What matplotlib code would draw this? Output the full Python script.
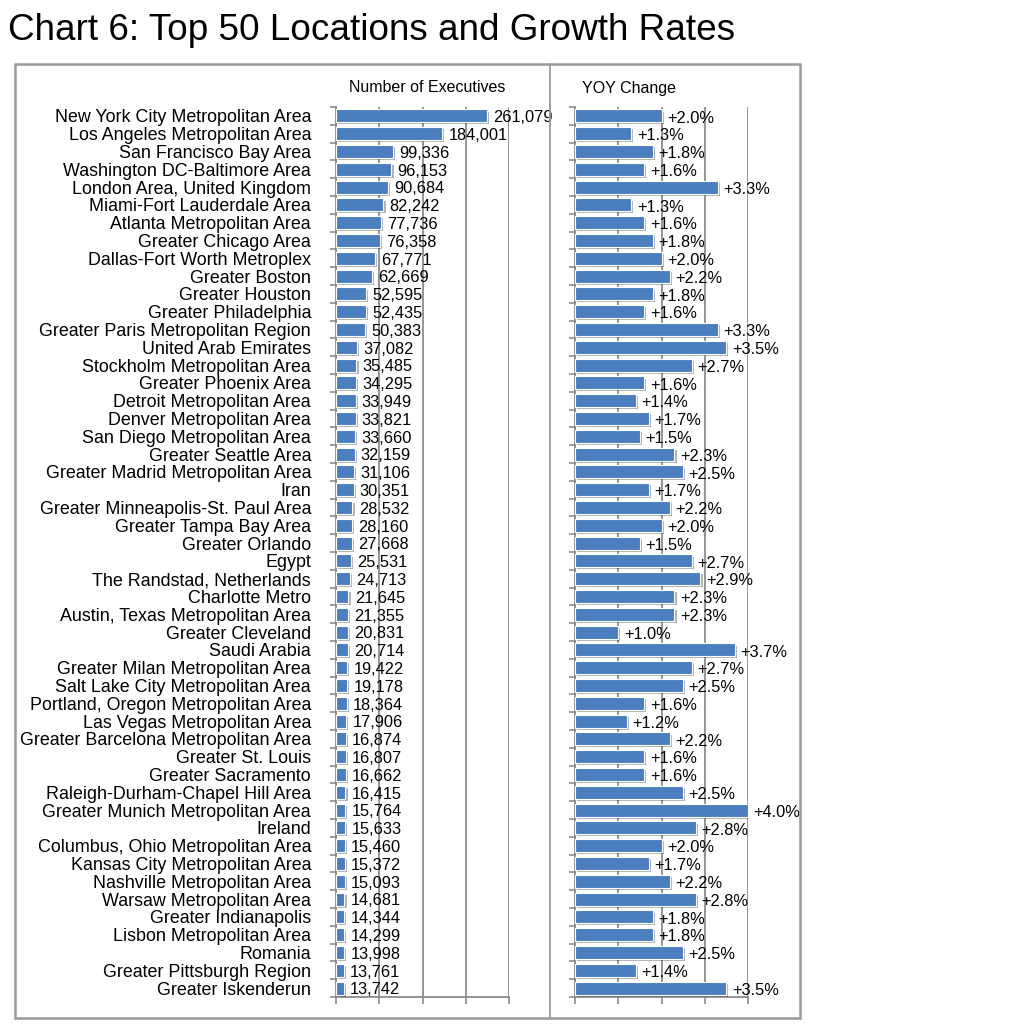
import matplotlib
matplotlib.use("Agg")
import matplotlib.pyplot as plt
import matplotlib.patheffects as pe
from matplotlib.patches import Rectangle
from matplotlib.lines import Line2D

plt.rcParams['font.family'] = ['Liberation Sans', 'DejaVu Sans']

locations = [
    "New York City Metropolitan Area", "Los Angeles Metropolitan Area", "San Francisco Bay Area",
    "Washington DC-Baltimore Area", "London Area, United Kingdom", "Miami-Fort Lauderdale Area",
    "Atlanta Metropolitan Area", "Greater Chicago Area", "Dallas-Fort Worth Metroplex",
    "Greater Boston", "Greater Houston", "Greater Philadelphia",
    "Greater Paris Metropolitan Region", "United Arab Emirates", "Stockholm Metropolitan Area",
    "Greater Phoenix Area", "Detroit Metropolitan Area", "Denver Metropolitan Area",
    "San Diego Metropolitan Area", "Greater Seattle Area", "Greater Madrid Metropolitan Area",
    "Iran", "Greater Minneapolis-St. Paul Area", "Greater Tampa Bay Area",
    "Greater Orlando", "Egypt", "The Randstad, Netherlands",
    "Charlotte Metro", "Austin, Texas Metropolitan Area", "Greater Cleveland",
    "Saudi Arabia", "Greater Milan Metropolitan Area", "Salt Lake City Metropolitan Area",
    "Portland, Oregon Metropolitan Area", "Las Vegas Metropolitan Area", "Greater Barcelona Metropolitan Area",
    "Greater St. Louis", "Greater Sacramento", "Raleigh-Durham-Chapel Hill Area",
    "Greater Munich Metropolitan Area", "Ireland", "Columbus, Ohio Metropolitan Area",
    "Kansas City Metropolitan Area", "Nashville Metropolitan Area", "Warsaw Metropolitan Area",
    "Greater Indianapolis", "Lisbon Metropolitan Area", "Romania",
    "Greater Pittsburgh Region", "Greater Iskenderun",
]
executives = [
    261079, 184001, 99336, 96153, 90684, 82242, 77736, 76358, 67771, 62669,
    52595, 52435, 50383, 37082, 35485, 34295, 33949, 33821, 33660, 32159,
    31106, 30351, 28532, 28160, 27668, 25531, 24713, 21645, 21355, 20831,
    20714, 19422, 19178, 18364, 17906, 16874, 16807, 16662, 16415, 15764,
    15633, 15460, 15372, 15093, 14681, 14344, 14299, 13998, 13761, 13742,
]
yoy_change = [
    2.0, 1.3, 1.8, 1.6, 3.3, 1.3, 1.6, 1.8, 2.0, 2.2,
    1.8, 1.6, 3.3, 3.5, 2.7, 1.6, 1.4, 1.7, 1.5, 2.3,
    2.5, 1.7, 2.2, 2.0, 1.5, 2.7, 2.9, 2.3, 2.3, 1.0,
    3.7, 2.7, 2.5, 1.6, 1.2, 2.2, 1.6, 1.6, 2.5, 4.0,
    2.8, 2.0, 1.7, 2.2, 2.8, 1.8, 1.8, 2.5, 1.4, 3.5,
]
exec_ticks = [0, 75000, 150000, 225000, 300000]
yoy_ticks = [0, 1, 2, 3, 4]
panel_titles = ["Number of Executives", "YOY Change"]
chart_title = "Chart 6: Top 50 Locations and Growth Rates"

W, H = 1013, 1024
fig = plt.figure(figsize=(W / 100, H / 100), dpi=100)

def fx(px):
    return px / W

def fy(py):
    return 1 - py / H

BAR_COLOR = "#4a7ebf"
GRID_COLOR = "#8c8c8c"
FS_CAT = 12.9
FS_VAL = 11.8

ax_bottom = fy(997)
ax_height = fy(107) - fy(997)
ax1 = fig.add_axes([fx(336), ax_bottom, fx(509) - fx(336), ax_height])
ax2 = fig.add_axes([fx(575), ax_bottom, fx(748) - fx(575), ax_height])

n = len(locations)
ypos = list(range(n))
shadow = [pe.SimplePatchShadow(offset=(1.5, -1.5), alpha=0.35), pe.Normal()]

def style_axis(ax, ticks):
    ax.set_xlim(ticks[0], ticks[-1])
    ax.set_ylim(n - 0.5, -0.5)
    ax.set_xticks(ticks)
    ax.set_xticklabels([])
    ax.set_yticks([i - 0.5 for i in range(n + 1)])
    ax.set_yticklabels([])
    ax.tick_params(axis='y', which='major', length=4, width=1.2, color=GRID_COLOR, direction='out')
    ax.tick_params(axis='x', which='major', length=5, width=1.2, color=GRID_COLOR, direction='out')
    ax.grid(axis='x', color=GRID_COLOR, linewidth=1.3, zorder=0)
    ax.set_axisbelow(True)
    for s in ['top', 'right']:
        ax.spines[s].set_visible(False)
    for s in ['left', 'bottom']:
        ax.spines[s].set_color(GRID_COLOR)
        ax.spines[s].set_linewidth(1.3)
    ax.patch.set_alpha(0)

style_axis(ax1, exec_ticks)
style_axis(ax2, yoy_ticks)

bars1 = ax1.barh(ypos, executives, height=0.72, color=BAR_COLOR, edgecolor="white", linewidth=0.8, zorder=3)
bars2 = ax2.barh(ypos, yoy_change, height=0.72, color=BAR_COLOR, edgecolor="white", linewidth=0.8, zorder=3)
for b in list(bars1) + list(bars2):
    b.set_path_effects(shadow)

for i, v in enumerate(executives):
    ax1.annotate(f"{v:,}", xy=(v, i + 0.1), xytext=(4.5, 0), textcoords='offset points',
                 va='center', ha='left', fontsize=FS_VAL, zorder=4)
for i, v in enumerate(yoy_change):
    ax2.annotate(f"+{v:.1f}%", xy=(v, i + 0.12), xytext=(4, 0), textcoords='offset points',
                 va='center', ha='left', fontsize=FS_VAL, zorder=4)

ax1.set_yticks(ypos, minor=True)
ax1.set_yticklabels(locations, minor=True, fontsize=FS_CAT)
ax1.tick_params(axis='y', which='minor', length=0, pad=18)

# Headers and title
fig.text(fx(349), fy(88), panel_titles[0], fontsize=11.5, va='center', ha='left')
fig.text(fx(582), fy(88), panel_titles[1], fontsize=11.5, va='center', ha='left')
fig.text(fx(8), fy(31), chart_title, fontsize=26.6, va='center', ha='left')

# Frame
frame = Rectangle((fx(15), fy(1018)), fx(800) - fx(15), fy(64) - fy(1018),
                  transform=fig.transFigure, fill=False, edgecolor="#999999", linewidth=1.8)
fig.add_artist(frame)
fig.add_artist(Line2D([fx(550), fx(550)], [fy(1018), fy(64)], transform=fig.transFigure,
                      color="#999999", linewidth=1.3))

fig.savefig("out.png", dpi=100)
